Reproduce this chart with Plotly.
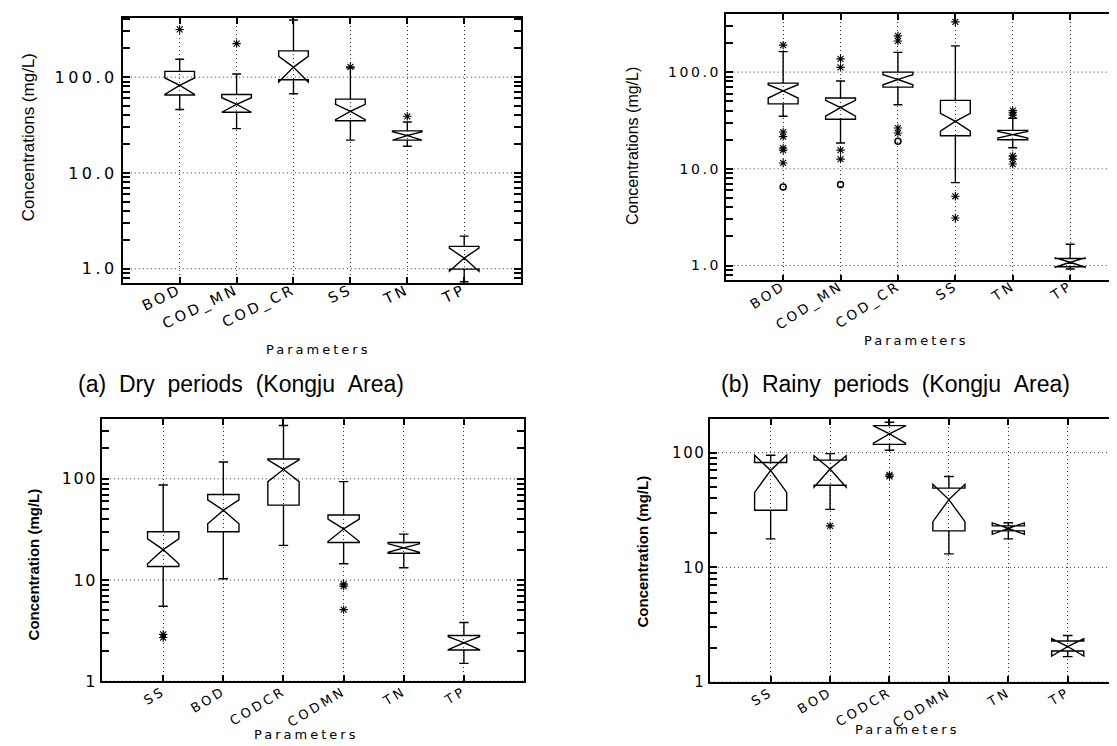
import plotly.graph_objects as go

W, H = 1117, 746

# ---------------- data ----------------
# (a) Dry periods (Kongju Area)
a_cats = ["BOD", "COD_MN", "COD_CR", "SS", "TN", "TP"]
a_q1 = [65, 43, 94, 35, 22, 0.99]
a_med = [82, 52, 127, 44, 24.5, 1.29]
a_q3 = [115, 66, 188, 59, 27.5, 1.71]
a_lo = [46, 29, 67, 22, 19, 0.73]
a_hi = [154, 108, 395, 125, 34, 2.19]
a_notch = [16, 9, 38, 8, 2.5, 0.35]
a_out_x = ["BOD", "COD_MN", "SS", "TN"]
a_out_y = [315, 224, 128, 39]

# (b) Rainy periods (Kongju Area)
b_cats = ["BOD", "COD_MN", "COD_CR", "SS", "TN", "TP"]
b_q1 = [47, 32.6, 70, 22, 20, 0.97]
b_med = [64, 43, 84, 31, 22.6, 1.08]
b_q3 = [77, 54, 100, 51, 25, 1.18]
b_lo = [35, 18.5, 46, 7.2, 16.5, 0.92]
b_hi = [163, 81, 160, 187, 33.4, 1.66]
b_notch = [10, 8, 10, 6.5, 1.8, 0.12]
b_out_x = ["BOD", "BOD", "BOD", "BOD", "BOD", "BOD",
           "COD_MN", "COD_MN", "COD_MN", "COD_MN",
           "COD_CR", "COD_CR", "COD_CR", "COD_CR",
           "SS", "SS", "SS",
           "TN", "TN", "TN", "TN", "TN", "TN"]
b_out_y = [190, 24, 21.5, 16.4, 15.6, 11.5,
           137, 112, 15.6, 12.6,
           237, 210, 26.4, 23.5,
           331, 5.2, 3.1,
           40, 38, 36, 13.6, 12.6, 11.2]
b_circ_x = ["BOD", "COD_MN", "COD_CR"]
b_circ_y = [6.5, 6.9, 19.3]

# Bottom-left panel
c_cats = ["SS", "BOD", "CODCR", "CODMN", "TN", "TP"]
c_q1 = [13.6, 30, 55, 23.5, 18.4, 2.03]
c_med = [20, 49, 124, 32, 20.8, 2.4]
c_q3 = [30, 70, 157, 44, 23.5, 2.83]
c_lo = [5.5, 10.3, 22, 14.5, 13.2, 1.5]
c_hi = [87, 147, 337, 94, 28.4, 3.8]
c_notch = [5.5, 13, 30, 8, 2, 0.35]
c_out_x = ["SS", "SS", "CODMN", "CODMN", "CODMN"]
c_out_y = [2.9, 2.7, 9.1, 8.7, 5.1]

# Bottom-right panel
d_cats = ["SS", "BOD", "CODCR", "CODMN", "TN", "TP"]
d_q1 = [31.5, 52, 118, 20.8, 20.8, 1.87]
d_med = [70, 72, 146, 39, 21.9, 2.04]
d_q3 = [82, 86, 172, 49, 23, 2.28]
d_lo = [17.7, 32, 105, 13.1, 17.7, 1.67]
d_hi = [82, 98, 184, 62, 24.5, 2.55]
d_notch = [25, 22, 25, 14, 2.5, 0.35]
d_out_x = ["BOD", "CODCR", "CODCR"]
d_out_y = [23, 64, 62]

panel_titles = ["(a)\u00a0\u00a0Dry\u00a0\u00a0periods\u00a0\u00a0(Kongju\u00a0\u00a0Area)",
                "(b)\u00a0\u00a0Rainy\u00a0\u00a0periods\u00a0\u00a0(Kongju\u00a0\u00a0Area)"]
top_ytitle = "Concentrations (mg/L)"
bot_ytitle = "Concentration (mg/L)"
xtitle = "Parameters"
decades = [1, 10, 100]
top_ylabels = ["1.0", "10.0", "100.0"]
bot_ylabels = ["1", "10", "100"]
all_ytickvals = [0.7, 0.8, 0.9, 1, 2, 3, 4, 5, 6, 7, 8, 9, 10,
                 20, 30, 40, 50, 60, 70, 80, 90, 100, 200, 300, 400]

# ---------------- layout helpers ----------------
def dom_x(l, r):
    return [l / W, min(r / W, 1.0)]

def dom_y(t, b):
    return [1 - b / H, 1 - t / H]

def spaced(s, sp):
    return '<span style="letter-spacing:%spx">%s</span>' % (sp, s)

panels = [
    dict(cats=a_cats, q1=a_q1, med=a_med, q3=a_q3, lo=a_lo, hi=a_hi, notch=a_notch,
         ox=a_out_x, oy=a_out_y, cx=[], cy=[],
         xd=dom_x(115, 514), yd=dom_y(10, 279), xr=[-1, 6], yr=[-0.152, 2.619],
         yl=top_ylabels, ytf=16, ysp=3.5, xtf=14.5, xsp=3.2, bw=0.52, so=-9, ang=-26),
    dict(cats=b_cats, q1=b_q1, med=b_med, q3=b_q3, lo=b_lo, hi=b_hi, notch=b_notch,
         ox=b_out_x, oy=b_out_y, cx=b_circ_x, cy=b_circ_y,
         xd=dom_x(719, 1117), yd=dom_y(6, 276), xr=[-1, 5.92], yr=[-0.153, 2.602],
         yl=top_ylabels, ytf=14, ysp=2.6, xtf=13.5, xsp=3, bw=0.52, so=-9, ang=-33),
    dict(cats=c_cats, q1=c_q1, med=c_med, q3=c_q3, lo=c_lo, hi=c_hi, notch=c_notch,
         ox=c_out_x, oy=c_out_y, cx=[], cy=[],
         xd=dom_x(94, 517), yd=dom_y(416.7, 682.3), xr=[-1.02, 6.0], yr=[0, 2.591],
         yl=bot_ylabels, ytf=16, ysp=1.5, xtf=13, xsp=3, bw=0.52, so=-4, ang=-31),
    dict(cats=d_cats, q1=d_q1, med=d_med, q3=d_q3, lo=d_lo, hi=d_hi, notch=d_notch,
         ox=d_out_x, oy=d_out_y, cx=[], cy=[],
         xd=dom_x(703.3, 1117), yd=dom_y(416.7, 683.3), xr=[-1.02, 5.93], yr=[0, 2.292],
         yl=bot_ylabels, ytf=15, ysp=1.5, xtf=13, xsp=3, bw=0.54, so=-4, ang=-31),
]

fig = go.Figure()
layout = dict(
    width=W, height=H, margin=dict(l=0, r=0, t=0, b=0),
    paper_bgcolor="white", plot_bgcolor="white", showlegend=False,
    font=dict(family="DejaVu Sans", color="black"),
)
shapes = []
grid_style = dict(color="#333", width=1, dash="1px,3px")

for i, p in enumerate(panels):
    n = "" if i == 0 else str(i + 1)
    xa, ya = "x" + n, "y" + n
    fig.add_trace(go.Box(
        x=p["cats"], q1=p["q1"], median=p["med"], q3=p["q3"],
        lowerfence=p["lo"], upperfence=p["hi"], notchspan=p["notch"],
        notched=True, notchwidth=0.5, width=p["bw"], whiskerwidth=0.3,
        boxpoints=False, fillcolor="rgba(0,0,0,0)",
        line=dict(color="black", width=1.4),
        xaxis=xa, yaxis=ya, hoverinfo="skip"))
    if p["ox"]:
        fig.add_trace(go.Scatter(
            x=p["ox"], y=p["oy"], mode="markers", xaxis=xa, yaxis=ya,
            marker=dict(symbol="asterisk-open", size=7, color="black",
                        line=dict(color="black", width=1.1)), hoverinfo="skip"))
    if p["cx"]:
        fig.add_trace(go.Scatter(
            x=p["cx"], y=p["cy"], mode="markers", xaxis=xa, yaxis=ya,
            marker=dict(symbol="circle-open", size=6, color="black",
                        line=dict(color="black", width=1.5)), hoverinfo="skip"))

    # decade grid lines (horizontal dotted)
    for dv in decades:
        shapes.append(dict(type="line", xref=xa + " domain", yref=ya,
                           x0=0, x1=1, y0=dv, y1=dv, layer="below", line=grid_style))

    lab = dict(zip(decades, p["yl"]))
    layout["xaxis" + n] = dict(
        domain=p["xd"], anchor=ya, type="category", categoryorder="array",
        categoryarray=p["cats"], range=p["xr"],
        tickmode="array", tickvals=p["cats"],
        ticktext=[spaced(c, p["xsp"]) for c in p["cats"]],
        tickangle=p["ang"], ticklabelstandoff=p["so"],
        tickfont=dict(family="DejaVu Sans", size=p["xtf"], color="black"),
        ticks="inside", ticklen=6, tickcolor="black", tickwidth=1.5,
        showline=True, linecolor="black", linewidth=1.6, mirror="ticks",
        showgrid=True, gridcolor="#333", griddash="1px,3px", gridwidth=1,
        zeroline=False, fixedrange=True)
    layout["yaxis" + n] = dict(
        domain=p["yd"], anchor=xa, type="log", range=p["yr"],
        tickmode="array", tickvals=all_ytickvals,
        ticktext=[spaced(lab[v], p["ysp"]) if v in lab else "" for v in all_ytickvals],
        tickfont=dict(family="DejaVu Sans", size=p["ytf"], color="black"),
        ticks="inside", ticklen=7, tickcolor="black", tickwidth=1.5,
        showline=True, linecolor="black", linewidth=1.6, mirror="allticks",
        showgrid=False, zeroline=False, fixedrange=True)

layout["shapes"] = shapes

ann = []
# panel titles
for (cx, cy), t in zip([(233, 381), (889, 381)], panel_titles):
    ann.append(dict(x=cx / W, y=1 - cy / H, xref="paper", yref="paper", text=t,
                    showarrow=False, xanchor="center", yanchor="middle",
                    font=dict(family="Liberation Sans", size=23, color="black")))
# y titles
for (cx, cy), t, f in zip([(20, 131), (625, 140), (25, 564), (636, 551)],
                          [top_ytitle, top_ytitle, bot_ytitle, bot_ytitle],
                          [dict(family="Liberation Sans", size=17),
                           dict(family="Liberation Sans", size=16),
                           dict(family="Liberation Sans", size=15, weight="bold"),
                           dict(family="Liberation Sans", size=15, weight="bold")]):
    f = dict(f, color="black")
    ann.append(dict(x=cx / W, y=1 - cy / H, xref="paper", yref="paper", text=t,
                    textangle=-90, showarrow=False, xanchor="center", yanchor="middle",
                    font=f))
# x titles
for (cx, cy), sz in zip([(311, 346), (910, 337), (299, 736), (901, 731)], [13, 13, 13, 13]):
    ann.append(dict(x=cx / W, y=1 - cy / H, xref="paper", yref="paper",
                    text=spaced(xtitle, 3), showarrow=False,
                    xanchor="center", yanchor="middle",
                    font=dict(family="DejaVu Sans", size=sz, color="black")))
layout["annotations"] = ann

fig.update_layout(**layout)
fig.write_html("out.html")
